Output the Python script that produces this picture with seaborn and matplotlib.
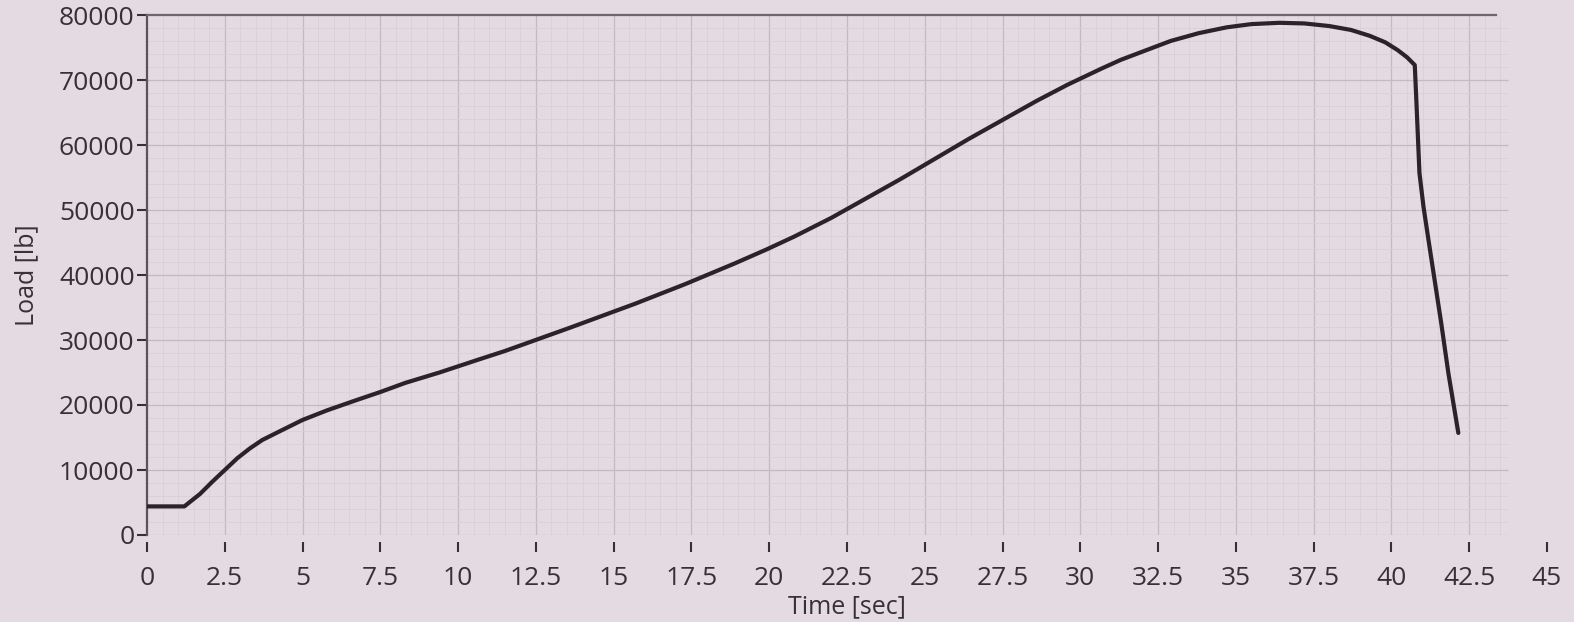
import numpy as np
import pandas as pd
import matplotlib
matplotlib.use("Agg")
import matplotlib.pyplot as plt
import seaborn as sns

# ---- data ----
time_sec = [0.0, 1.2, 1.7, 2.1, 2.5, 2.9, 3.3, 3.7, 4.2, 5.0, 5.8, 6.7, 7.5,
            8.3, 9.4, 10.6, 11.5, 13.6, 15.7, 17.3, 18.9, 19.9, 20.8, 22.0,
            24.2, 26.4, 28.6, 29.6, 30.7, 31.3, 32.9, 33.8, 34.7, 35.5, 36.4,
            37.2, 38.0, 38.7, 39.3, 39.8, 40.2, 40.5, 40.75, 40.8, 40.9, 41.03,
            41.19, 41.6, 41.83, 42.15]
load_lb = [4400, 4400, 6300, 8200, 10000, 11800, 13300, 14600, 15800, 17700,
           19200, 20700, 22000, 23400, 25000, 26900, 28300, 31900, 35600, 38600,
           41800, 43900, 45900, 48800, 54700, 60900, 66800, 69300, 71800, 73100,
           76000, 77200, 78100, 78600, 78800, 78700, 78300, 77700, 76800, 75800,
           74600, 73500, 72300, 66900, 55700, 50500, 45400, 32600, 24900, 15700]
x_ticks = [0, 2.5, 5, 7.5, 10, 12.5, 15, 17.5, 20, 22.5, 25, 27.5, 30, 32.5,
           35, 37.5, 40, 42.5, 45]
x_tick_labels = ["0", "2.5", "5", "7.5", "10", "12.5", "15", "17.5", "20",
                 "22.5", "25", "27.5", "30", "32.5", "35", "37.5", "40",
                 "42.5", "45"]
y_ticks = [0, 10000, 20000, 30000, 40000, 50000, 60000, 70000, 80000]
y_tick_labels = ["0", "10000", "20000", "30000", "40000", "50000", "60000",
                 "70000", "80000"]
x_label = "Time [sec]"
y_label = "Load [lb]"

df = pd.DataFrame({"Time": time_sec, "Load": load_lb})

sns.set_theme(style="white")
plt.rcParams["font.family"] = ["Open Sans", "DejaVu Sans"]

paper = "#e3dae2"
ink = "#363234"
grid_minor = "#dad0d8"
grid_major = "#c6bac2"

W, H = 1574, 622
fig = plt.figure(figsize=(W / 100, H / 100), dpi=100, facecolor=paper)
ax = fig.add_axes([147 / W, (H - 535) / H, 1400 / W, 520 / H])
ax.set_facecolor(paper)

x_max, y_max = 45, 80000
grid_end = 43.75
ax.set_xlim(0, x_max)
ax.set_ylim(0, y_max)

# paper grid (minor 0.5 s / 2000 lb, major 2.5 s / 10000 lb)
for xv in np.arange(0.5, grid_end, 0.5):
    major = abs(xv / 2.5 - round(xv / 2.5)) < 1e-9
    ax.vlines(xv, 0, y_max, color=grid_major if major else grid_minor,
              lw=0.9 if major else 0.6, zorder=0)
for yv in np.arange(0, y_max, 2000):
    major = yv % 10000 == 0
    ax.hlines(yv, 0, grid_end, color=grid_major if major else grid_minor,
              lw=0.9 if major else 0.6, zorder=0)

sns.lineplot(data=df, x="Time", y="Load", ax=ax, sort=False,
             color="#2a2327", lw=3.0, zorder=3, solid_joinstyle="round",
             solid_capstyle="round")

# axes frame: left spine and a shortened top line only
for s in ["right", "bottom"]:
    ax.spines[s].set_visible(False)
ax.spines["left"].set_color("#5a5457")
ax.spines["left"].set_linewidth(1.6)
ax.spines["top"].set_color("#6e6669")
ax.spines["top"].set_linewidth(1.6)
ax.spines["top"].set_bounds(0, grid_end - 0.4)
ax.spines["bottom"].set_position(("outward", 5))

ax.set_xticks(x_ticks)
ax.set_xticklabels(x_tick_labels)
ax.set_yticks(y_ticks)
ax.set_yticklabels(y_tick_labels)
ax.tick_params(axis="x", bottom=True, direction="out", length=7, width=1.5,
               color=ink, pad=10, labelsize=19, labelcolor=ink)
ax.tick_params(axis="y", left=True, direction="out", length=7, width=1.5,
               color=ink, pad=2, labelsize=19, labelcolor=ink)

ax.set_xlabel(x_label, fontsize=18, color=ink, labelpad=3)
ax.set_ylabel(y_label, fontsize=18, color=ink, labelpad=14)

fig.savefig("out.png", dpi=100, facecolor=paper)
